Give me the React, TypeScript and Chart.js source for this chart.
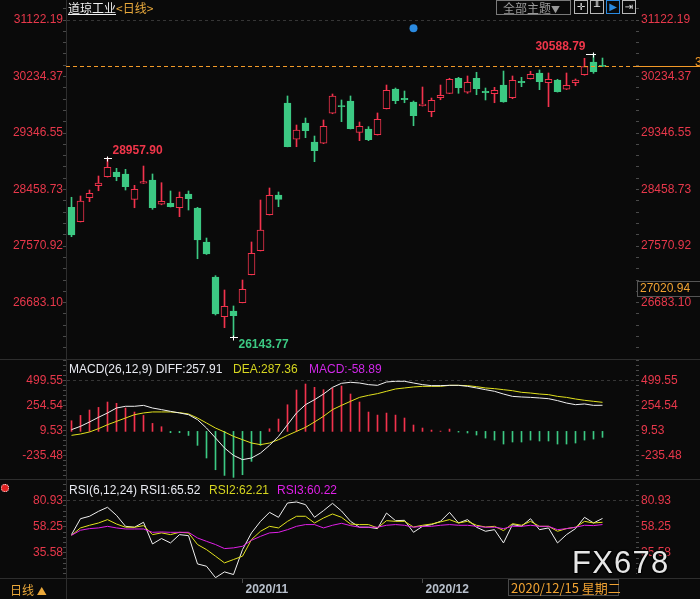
import React, { useEffect, useRef } from 'react';
import { Chart, registerables } from 'chart.js';

Chart.register(...registerables);

const FONT = '"Liberation Sans", Arial, "Noto Sans CJK SC", sans-serif';
const CJK = '"Noto Sans CJK SC", "Liberation Sans", sans-serif';
const BG = '#0a0a0a';
const RED = '#f2334d';
const LABEL_RED = '#e8384b';
const GREEN = '#3cc983';
const ORANGE = '#f39a28';
const WHITE = '#f0f0f0';
const YELLOW = '#e2e21e';
const MAGENTA = '#e020e8';

// ---- price (daily candles) ----
const openP = [28180,27955,28331,28520,28661,28735,28704,28306,28558,28609,28228,28243,28174,28390,28170,27636,27086,26463,26552,26682,27122,27499,28064,28374,29819,29249,29505,29206,29186,29657,29772,29850,29358,29408,29321,29729,30039,29893,29834,29776,29682,29902,29971,30207,29987,30207,30002,29965,30101,29902,30160,30200,30290,30138,30180,30034,30138,30263,30463,30398];
const highP = [28338,28358,28452,28672,28957.90,28793,28777,28526,28829,28704,28567,28437,28421,28437,28180,27698,27107,26882,26631,27039,27636,28295,28484,28421,29929,29473,29583,29300,29552,29960,29866,29929,29520,29447,29662,30101,30054,30007,29850,30070,29897,30101,30207,30222,30243,30301,30054,30065,30321,30243,30222,30317,30337,30290,30191,30290,30196,30521,30588.79,30525];
const lowP = [27719,27950,28269,28441,28655,28598,28452,28174,28555,28149,28220,28185,28033,28138,27373,27440,26489,26290,26143.77,26680,27120,27495,28060,28190,29130,29132,29274,28897,29180,29650,29525,29410,29227,29227,29315,29725,29808,29823,29462,29770,29603,29870,29965,29971,29971,29949,29866,29823,29830,29886,30075,30195,30028,29761,29990,30030,30090,30255,30285,30390];
const closeP = [27746,28280,28400,28562,28809,28661,28504,28463,28583,28174,28275,28190,28338,28316,27667,27447,26505,26626,26478,26893,27458,27824,28369,28306,29132,29395,29384,29070,29453,29929,29762,29415,29453,29243,29563,30018,29855,29871,29619,29803,29861,29940,30191,30059,30144,30043,29980,30018,29834,30175,30138,30269,30153,30191,29996,30097,30180,30389,30310,30395];

const priceMajors = [31122.19, 30234.37, 29346.55, 28458.73, 27570.92, 26683.10];
const priceLabels = ['31122.19', '30234.37', '29346.55', '28458.73', '27570.92', '26683.10'];
const markIdx = [4, 18, 58];
const markType = ['high', 'low', 'high'];
const eventIdx = [38];
const eventVal = [30992];
const crossValue = 27020.94;

// ---- MACD ----
const macdDiff = [17,50,93,139,182,231,248,248,257,231,215,198,182,165,116,33,-65,-164,-237,-279,-263,-214,-138,-49,66,182,264,313,369,435,475,485,478,462,455,488,495,495,478,462,452,452,455,455,445,429,412,396,369,346,340,336,330,323,304,280,264,271,257,257.91];
const macdDea = [-39,-26,-6,27,66,99,132,165,182,192,192,192,185,172,132,83,33,-6,-49,-82,-115,-131,-115,-82,-39,0,40,93,149,215,257,297,336,356,373,396,419,429,439,445,445,445,455,455,452,442,429,422,412,402,386,379,369,363,346,336,320,307,297,287.36];
const macdHist = [105,158,211,237,290,277,231,191,158,79,46,-13,-13,-40,-138,-263,-379,-435,-454,-428,-296,-138,26,122,263,409,468,435,412,428,448,369,290,191,161,181,161,132,63,33,13,3,23,-7,-16,-36,-66,-86,-125,-105,-105,-86,-95,-95,-125,-125,-115,-86,-76,-58.89];
const macdMajors = [499.55, 254.54, 9.53, -235.48];
const macdLabels = ['499.55', '254.54', '9.53', '-235.48'];

// ---- RSI ----
const rsi1 = [51.5,65.3,67.4,71.7,75.2,68.2,58.7,57.9,62.2,43.4,48.1,44.3,51.5,50.6,26.1,24.1,14.2,19.2,16.9,38.5,53.0,63.0,70.8,66.5,78.9,79.8,77.5,66.5,72.3,78.6,72.0,63.0,57.9,57.9,56.7,70.2,63.6,63.9,53.5,58.7,60.2,63.0,70.8,61.6,64.5,57.9,54.4,55.8,44.3,60.2,58.7,65.3,55.8,57.3,44.3,51.5,56.7,66.5,61.6,65.52];
const rsi2 = [50.9,57.3,59.6,61.6,64.5,60.7,57.9,57.9,59.3,51.5,53.0,51.5,53.5,53.0,42.9,38.5,32.8,27.0,29.9,32.8,47.2,54.4,58.7,57.3,63.0,67.4,67.4,61.6,65.9,69.4,66.5,60.7,60.2,60.2,57.3,63.6,63.0,63.0,58.1,59.6,60.7,62.5,64.5,61.6,63.0,59.6,58.1,58.7,55.0,61.0,59.6,63.0,58.7,58.7,54.4,56.7,57.9,63.0,61.6,62.21];
const rsi3 = [50.9,55.3,56.7,57.3,58.7,57.3,56.4,56.4,56.4,53.5,53.8,53.5,53.5,53.5,48.6,45.7,42.9,39.4,40.0,41.4,46.6,50.0,53.0,53.5,55.8,58.7,60.2,60.2,57.3,59.6,61.3,59.3,57.9,57.9,57.9,59.6,60.2,59.6,57.9,58.7,58.7,59.6,60.2,59.6,59.6,58.7,57.9,57.9,56.7,58.7,58.7,59.6,58.7,58.7,55.8,56.7,57.9,59.6,59.3,60.22];
const rsiMajors = [80.93, 58.25, 35.58];
const rsiLabels = ['80.93', '58.25', '35.58'];

const monthIdx = [19, 39];
const monthLabels = ['2020/11', '2020/12'];

const X_MIN = -0.6111;
const X_MAX = 62.722;

type T = { value: number; main: boolean; text: string };
function buildTicks(majors: number[], labels: string[], min: number, max: number): T[] {
  const step = (majors[0] - majors[1]) / 5;
  const out: T[] = [];
  for (let v = majors[0] + step; v <= max; v += step) out.push({ value: v, main: false, text: '' });
  majors.forEach((m, i) => {
    out.push({ value: m, main: true, text: labels[i] });
    const next = i < majors.length - 1 ? majors[i + 1] : m - 5 * step;
    for (let k = 1; k < 5; k++) {
      const v = m + ((next - m) * k) / 5;
      if (v >= min) out.push({ value: v, main: false, text: '' });
    }
  });
  for (let v = majors[majors.length - 1] - 5 * step; v >= min; v -= step) out.push({ value: v, main: false, text: '' });
  return out.sort((a, b) => a.value - b.value);
}

function yAxis(position: 'left' | 'right', majors: number[], labels: string[], min: number, max: number): any {
  const list = buildTicks(majors, labels, min, max);
  const top = majors[0];
  return {
    type: 'linear',
    position,
    min,
    max,
    afterBuildTicks: (s: any) => {
      s.ticks = list.map((t) => ({ ...t }));
    },
    afterFit: (s: any) => {
      s.width = position === 'left' ? 66 : 64;
      s.paddingTop = 0;
      s.paddingBottom = 0;
      s.paddingLeft = 0;
      s.paddingRight = 0;
    },
    ticks: {
      autoSkip: false,
      padding: position === 'left' ? 0 : 2,
      color: LABEL_RED,
      font: { family: FONT, size: 12 },
      callback: function (_v: any, i: number, ts: any[]) {
        return ts[i] && ts[i].main ? ts[i].text : '';
      },
    },
    grid: {
      drawOnChartArea: position === 'left',
      drawTicks: true,
      tickLength: 3,
      tickColor: '#4a4a4a',
      tickWidth: 1,
      tickBorderDash: [],
      lineWidth: 1,
      color: (c: any) => (c.tick && c.tick.value === top ? '#363636' : 'rgba(0,0,0,0)'),
    },
    border: { display: position === 'left', color: '#2e2e2e', width: 1, dash: [3, 3] },
  };
}

const xHidden: any = { type: 'linear', min: X_MIN, max: X_MAX, display: false, offset: false, grid: { offset: false } };

const common: any = {
  responsive: false,
  maintainAspectRatio: false,
  animation: false,
  devicePixelRatio: 1,
  events: [],
  layout: { padding: 0, autoPadding: false },
  plugins: { legend: { display: false }, tooltip: { enabled: false }, title: { display: false } },
};

const idx = openP.map((_, i) => i);
const up = idx.map((i) => closeP[i] >= openP[i]);

const priceAnno = {
  id: 'priceAnno',
  afterDatasetsDraw(chart: any) {
    const { ctx, chartArea } = chart;
    const xs = chart.scales.x;
    const ys = chart.scales.y;
    ctx.save();
    // last price line
    const yLast = Math.round(ys.getPixelForValue(closeP[closeP.length - 1])) + 0.5;
    ctx.strokeStyle = ORANGE;
    ctx.lineWidth = 1;
    ctx.setLineDash([4, 3]);
    ctx.beginPath();
    ctx.moveTo(chartArea.left, yLast);
    ctx.lineTo(chartArea.right, yLast);
    ctx.stroke();
    ctx.setLineDash([]);
    ctx.beginPath();
    ctx.moveTo(chartArea.right, yLast);
    ctx.lineTo(chart.width, yLast);
    ctx.stroke();
    ctx.fillStyle = ORANGE;
    ctx.font = '12px ' + FONT;
    ctx.textBaseline = 'middle';
    ctx.textAlign = 'left';
    ctx.fillText(closeP[closeP.length - 1].toFixed(2), 695, yLast - 4);
    // high / low markers
    markIdx.forEach((i, k) => {
      const isHigh = markType[k] === 'high';
      const v = isHigh ? highP[i] : lowP[i];
      const px = xs.getPixelForValue(i);
      const py = Math.round(ys.getPixelForValue(v)) + 0.5;
      const leftSide = i > 40;
      ctx.strokeStyle = '#ffffff';
      ctx.lineWidth = 1;
      ctx.beginPath();
      const h0 = leftSide ? px - 7.5 : px - 3.5;
      const h1 = leftSide ? px + 2.5 : px + 4.5;
      ctx.moveTo(h0, py);
      ctx.lineTo(h1, py);
      ctx.moveTo(px, py - 2);
      ctx.lineTo(px, py + 3);
      ctx.stroke();
      ctx.font = 'bold 12px ' + FONT;
      ctx.fillStyle = isHigh ? '#f0364a' : GREEN;
      ctx.textAlign = leftSide ? 'right' : 'left';
      ctx.textBaseline = 'middle';
      const tx = leftSide ? px - 8 : px + 5;
      const ty = isHigh ? py - 7.5 : py + 7;
      ctx.fillText(v.toFixed(2), tx, ty);
    });
    ctx.restore();
  },
  afterDraw(chart: any) {
    const { ctx, chartArea } = chart;
    const ys = chart.scales.y;
    const yb = Math.round(ys.getPixelForValue(crossValue));
    ctx.save();
    ctx.fillStyle = BG;
    ctx.fillRect(chartArea.right + 1, yb, chart.width - chartArea.right, 16);
    ctx.strokeStyle = '#555555';
    ctx.lineWidth = 1;
    ctx.strokeRect(chartArea.right + 1.5, yb + 0.5, 80, 15);
    ctx.fillStyle = '#f0a232';
    ctx.font = '12px ' + FONT;
    ctx.textBaseline = 'middle';
    ctx.textAlign = 'left';
    ctx.fillText(crossValue.toFixed(2), chartArea.right + 4, yb + 8);
    ctx.restore();
  },
};

function priceConfig(): any {
  const min = 25813.9;
  const max = 31436.29;
  return {
    type: 'bar',
    data: {
      datasets: [
        {
          type: 'bar',
          data: idx.map((i) => ({ x: i, y: [lowP[i], highP[i]] })),
          backgroundColor: idx.map((i) => (up[i] ? RED : GREEN)),
          borderWidth: 0,
          barThickness: 1,
          grouped: false,
          order: 3,
        },
        {
          type: 'bar',
          data: idx.map((i) => ({ x: i, y: [openP[i], closeP[i]] })),
          backgroundColor: idx.map((i) => (up[i] ? BG : GREEN)),
          borderColor: idx.map((i) => (up[i] ? RED : GREEN)),
          borderWidth: 1,
          borderSkipped: false,
          barThickness: 7,
          minBarLength: 1,
          grouped: false,
          order: 2,
        },
        {
          type: 'line',
          data: eventIdx.map((x, k) => ({ x, y: eventVal[k] })),
          showLine: false,
          pointRadius: 4,
          pointBackgroundColor: '#2b8ae0',
          pointBorderWidth: 0,
          order: 1,
        },
      ],
    },
    options: {
      ...common,
      scales: {
        x: xHidden,
        y: yAxis('left', priceMajors, priceLabels, min, max),
        y2: yAxis('right', priceMajors, priceLabels, min, max),
      },
    },
    plugins: [priceAnno],
  };
}

function macdConfig(): any {
  const min = -460.5;
  const max = 725;
  return {
    type: 'bar',
    data: {
      datasets: [
        {
          type: 'bar',
          data: idx.map((i) => ({ x: i, y: macdHist[i] })),
          backgroundColor: idx.map((i) => (macdHist[i] >= 0 ? RED : GREEN)),
          borderWidth: 0,
          barThickness: 1,
          order: 3,
        },
        {
          type: 'line',
          data: idx.map((i) => ({ x: i, y: macdDea[i] })),
          borderColor: YELLOW,
          borderWidth: 1,
          pointRadius: 0,
          tension: 0,
          order: 2,
        },
        {
          type: 'line',
          data: idx.map((i) => ({ x: i, y: macdDiff[i] })),
          borderColor: WHITE,
          borderWidth: 1,
          pointRadius: 0,
          tension: 0,
          order: 1,
        },
      ],
    },
    options: {
      ...common,
      scales: {
        x: xHidden,
        y: yAxis('left', macdMajors, macdLabels, min, max),
        y2: yAxis('right', macdMajors, macdLabels, min, max),
      },
    },
  };
}

function rsiConfig(): any {
  const min = 13.9;
  const max = 100.58;
  const line = (d: number[], color: string) => ({
    data: idx.map((i) => ({ x: i, y: d[i] })),
    borderColor: color,
    borderWidth: 1,
    pointRadius: 0,
    tension: 0,
  });
  return {
    type: 'line',
    data: { datasets: [line(rsi3, MAGENTA), line(rsi2, YELLOW), line(rsi1, WHITE)] },
    options: {
      ...common,
      scales: {
        x: {
          type: 'linear',
          min: X_MIN,
          max: X_MAX,
          offset: false,
          position: 'bottom',
          afterBuildTicks: (s: any) => {
            s.ticks = monthIdx.map((v) => ({ value: v }));
          },
          afterFit: (s: any) => {
            s.height = 21;
            s.paddingLeft = 0;
            s.paddingRight = 0;
            s.paddingTop = 0;
            s.paddingBottom = 0;
          },
          ticks: {
            autoSkip: false,
            maxRotation: 0,
            minRotation: 0,
            align: 'start',
            labelOffset: 3,
            padding: -1,
            color: '#b8c0cc',
            font: { family: FONT, size: 12, weight: 'bold' },
            callback: (v: any) => {
              const k = monthIdx.indexOf(v);
              return k >= 0 ? monthLabels[k] : '';
            },
          },
          grid: { drawOnChartArea: false, drawTicks: true, tickLength: 5, tickColor: '#4a4a4a', color: '#4a4a4a', offset: false },
          border: { display: false },
        },
        y: yAxis('left', rsiMajors, rsiLabels, min, max),
        y2: yAxis('right', rsiMajors, rsiLabels, min, max),
      },
    },
  };
}

const abs = (o: any): any => ({ position: 'absolute', whiteSpace: 'pre', ...o });

export default function App() {
  const pRef = useRef<HTMLCanvasElement>(null);
  const mRef = useRef<HTMLCanvasElement>(null);
  const rRef = useRef<HTMLCanvasElement>(null);

  useEffect(() => {
    Chart.defaults.font.family = FONT;
    const charts: any[] = [];
    if (pRef.current) charts.push(new Chart(pRef.current, priceConfig()));
    if (mRef.current) charts.push(new Chart(mRef.current, macdConfig()));
    if (rRef.current) charts.push(new Chart(rRef.current, rsiConfig()));
    return () => charts.forEach((c) => c.destroy());
  }, []);

  const hdr = { fontFamily: FONT, fontSize: 12, lineHeight: '12px' };
  const iconBox = (left: number, color: string, glyph: string, gColor: string) => (
    <div
      style={abs({
        left,
        top: 0,
        width: 14,
        height: 14,
        boxSizing: 'border-box',
        border: '1px solid ' + color,
        color: gColor,
        fontSize: 10,
        lineHeight: '12px',
        textAlign: 'center',
        fontFamily: '"DejaVu Sans", sans-serif',
      })}
    >
      {glyph}
    </div>
  );

  return (
    <div
      style={{
        position: 'fixed',
        left: 0,
        top: 0,
        width: 700,
        height: 599,
        background: BG,
        overflow: 'hidden',
      }}
    >
      <canvas ref={pRef} width={700} height={358} style={{ position: 'absolute', left: 0, top: 0, width: 700, height: 358 }} />
      <canvas ref={mRef} width={700} height={120} style={{ position: 'absolute', left: 0, top: 358, width: 700, height: 120 }} />
      <canvas ref={rRef} width={700} height={121} style={{ position: 'absolute', left: 0, top: 478, width: 700, height: 121 }} />

      {/* separators */}
      <div style={abs({ left: 0, top: 359, width: 700, height: 1, background: '#2e2e2e' })} />
      <div style={abs({ left: 0, top: 479, width: 700, height: 1, background: '#2e2e2e' })} />
      <div style={abs({ left: 0, top: 578, width: 700, height: 1, background: '#2e2e2e' })} />
      <div style={abs({ left: 66, top: 578, width: 1, height: 21, background: '#2e2e2e' })} />

      {/* title */}
      <div style={abs({ left: 68, top: 1, fontFamily: CJK, fontSize: 12, lineHeight: '13px' })}>
        <span style={{ color: '#f0f0f0', textDecoration: 'underline' }}>道琼工业</span>
        <span style={{ color: '#eaaa3c' }}>{'<日线>'}</span>
      </div>

      {/* toolbar */}
      <div
        style={abs({
          left: 496,
          top: 0,
          width: 75,
          height: 15,
          boxSizing: 'border-box',
          border: '1px solid #7a7a7a',
          color: '#9a9a9a',
          fontFamily: CJK,
          fontSize: 12,
          lineHeight: '13px',
          paddingLeft: 6,
        })}
      >
        全部主题<span style={{ fontSize: 9 }}>▼</span>
      </div>
      {iconBox(574, '#b8b8b8', '✛', '#e0e0e0')}
      {iconBox(590, '#b8b8b8', '╨', '#e0e0e0')}
      {iconBox(606, '#2a8ae0', '▶', '#2a8ae0')}
      {iconBox(622, '#b8b8b8', '⇥', '#e0e0e0')}

      {/* MACD header */}
      <div style={abs({ ...hdr, left: 69, top: 363, color: '#e8eaf2' })}>MACD(26,12,9) DIFF:257.91</div>
      <div style={abs({ ...hdr, left: 233, top: 363, color: '#d6d620' })}>DEA:287.36</div>
      <div style={abs({ ...hdr, left: 309, top: 363, color: '#d028e8' })}>MACD:-58.89</div>

      {/* RSI header */}
      <div
        style={abs({
          left: 1,
          top: 484,
          width: 6,
          height: 6,
          borderRadius: '50%',
          background: '#e02020',
          border: '1px dotted #ffffff',
        })}
      />
      <div style={abs({ ...hdr, left: 69, top: 484, color: '#e8eaf2' })}>RSI(6,12,24) RSI1:65.52</div>
      <div style={abs({ ...hdr, left: 209, top: 484, color: '#d6d620' })}>RSI2:62.21</div>
      <div style={abs({ ...hdr, left: 277, top: 484, color: MAGENTA })}>RSI3:60.22</div>

      {/* watermark */}
      <div
        style={abs({
          left: 572,
          top: 547,
          fontFamily: FONT,
          fontSize: 31,
          lineHeight: '31px',
          letterSpacing: 1.2,
          color: '#e6e6e6',
          textShadow: '1px 1px 1px #000, -1px -1px 1px #000, 1px -1px 1px #000, -1px 1px 1px #000',
        })}
      >
        FX678
      </div>

      {/* bottom bar */}
      <div style={abs({ left: 10, top: 583, fontFamily: CJK, fontSize: 12, lineHeight: '13px', color: '#eaa83a' })}>
        日线 <span style={{ fontSize: 10 }}>▲</span>
      </div>
      <div
        style={abs({
          left: 508,
          top: 579,
          width: 111,
          height: 17,
          boxSizing: 'border-box',
          border: '1px solid #4a4a4a',
          color: '#f0a232',
          fontFamily: CJK,
          fontSize: 13,
          lineHeight: '15px',
          paddingLeft: 2,
        })}
      >
        2020/12/15 星期二
      </div>
    </div>
  );
}
